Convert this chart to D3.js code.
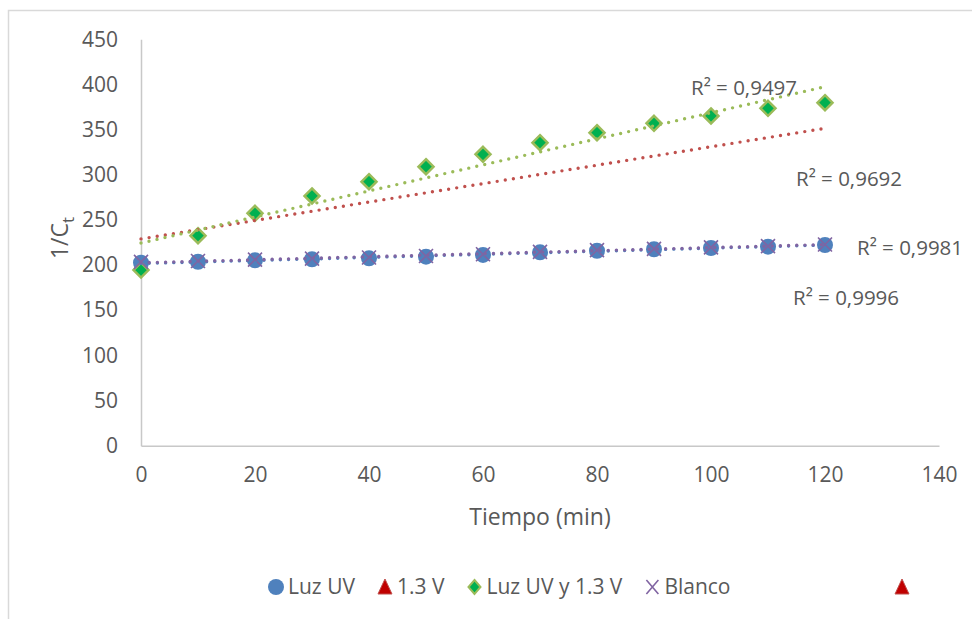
<!DOCTYPE html>
<html>
<head>
<meta charset="utf-8">
<script src="https://cdn.jsdelivr.net/npm/d3@7"></script>
<style>
  body { margin: 0; background: #fff; }
  text { font-family: "Open Sans", sans-serif; fill: #595959; }
</style>
</head>
<body>
<div id="chart"></div>
<script>
// data
let tiempo = [0, 10, 20, 30, 40, 50, 60, 70, 80, 90, 100, 110, 120]
let luzUV = [202.6, 203.7, 205.3, 206.4, 207.5, 209.3, 211.2, 214.1, 215.9, 217.5, 218.9, 220.4, 222.2]
let luzUV13 = [194.5, 232.5, 257.3, 276.5, 292.3, 308.9, 322.7, 335.5, 346.6, 357, 365.1, 373.6, 379.8]
let blanco = [203.5, 204.5, 206, 207.2, 208.4, 210, 212, 214.6, 216.5, 218, 219.6, 221, 222.8]
// 1.3 V markers are not visible, only its trendline (value at t=0 and t=120)
let trend13V = [229, 351.4]
let r2Labels = ["R² = 0,9497", "R² = 0,9692", "R² = 0,9981", "R² = 0,9996"]
let legendNames = ["Luz UV", "1.3 V", "Luz UV y 1.3 V", "Blanco"]
let xTicks = [0, 20, 40, 60, 80, 100, 120, 140]
let yTicks = [0, 50, 100, 150, 200, 250, 300, 350, 400, 450]

var W = 972, H = 619
var margin = { top: 39.3, left: 141, right: 33, bottom: 173.3 }

var svg = d3.select("#chart").append("svg")
    .attr("width", W)
    .attr("height", H)

// outer chart frame (only top and left visible)
svg.append("path")
    .attr("d", "M8.5," + H + " V10.5 H" + W)
    .attr("fill", "none")
    .attr("stroke", "#d9d9d9")
    .attr("stroke-width", 1.5)

var x = d3.scaleLinear().domain([0, 140]).range([margin.left, W - margin.right])
var y = d3.scaleLinear().domain([0, 450]).range([H - margin.bottom, margin.top])

// axes
var xAxis = svg.append("g")
    .attr("transform", "translate(0," + y(0) + ")")
    .call(d3.axisBottom(x).tickValues(xTicks).tickSize(0).tickPadding(21))
xAxis.select(".domain").attr("stroke", "#c8c8c8").attr("stroke-width", 1.5)
xAxis.selectAll("text").style("font-size", "21px").attr("fill", "#595959")
    .style("font-family", "'Open Sans', sans-serif")

var yAxis = svg.append("g")
    .attr("transform", "translate(" + x(0) + ",0)")
    .call(d3.axisLeft(y).tickValues(yTicks).tickSize(0).tickPadding(23))
yAxis.select(".domain").attr("stroke", "#c8c8c8").attr("stroke-width", 1.5)
yAxis.selectAll("text").style("font-size", "21px").attr("fill", "#595959")
    .style("font-family", "'Open Sans', sans-serif")

// axis titles
svg.append("text")
    .attr("x", 540).attr("y", 525)
    .attr("text-anchor", "middle")
    .style("font-size", "23px")
    .text("Tiempo (min)")

var yTitle = svg.append("text")
    .attr("transform", "translate(68,238) rotate(-90)")
    .attr("text-anchor", "middle")
    .style("font-size", "23px")
yTitle.append("tspan").text("1/C")
yTitle.append("tspan").attr("dy", 6).style("font-size", "17px").text("t")

function fit(xs, ys) {
    var mx = d3.mean(xs), my = d3.mean(ys)
    var sxy = d3.sum(xs, (v, i) => (v - mx) * (ys[i] - my))
    var sxx = d3.sum(xs, v => (v - mx) * (v - mx))
    var b = sxy / sxx
    return [my - b * mx, b]
}

var dotted = (color) => (sel) => sel
    .attr("fill", "none")
    .attr("stroke", color)
    .attr("stroke-width", 3.4)
    .attr("stroke-linecap", "round")
    .attr("stroke-dasharray", "0 8.2")

var line = d3.line().x(d => x(d[0])).y(d => y(d[1]))

// markers
svg.append("g").selectAll("circle")
    .data(tiempo)
    .enter().append("circle")
    .attr("cx", d => x(d))
    .attr("cy", (d, i) => y(luzUV[i]))
    .attr("r", 8)
    .attr("fill", "#4f81bd")

svg.append("g").selectAll("path")
    .data(tiempo)
    .enter().append("path")
    .attr("transform", (d, i) => "translate(" + x(d) + "," + y(luzUV13[i]) + ")")
    .attr("d", "M0,-7.5 L7.5,0 L0,7.5 L-7.5,0 Z")
    .attr("fill", "#00b050")
    .attr("stroke", "#9bbb59")
    .attr("stroke-width", 2.5)

svg.append("g").selectAll("path")
    .data(tiempo)
    .enter().append("path")
    .attr("transform", (d, i) => "translate(" + x(d) + "," + y(blanco[i]) + ")")
    .attr("d", "M-7,-7 L7,7 M7,-7 L-7,7")
    .attr("stroke", "#8064a2")
    .attr("stroke-width", 1.6)

// trendlines
var fUV = fit(tiempo, luzUV)
var fMix = fit(tiempo, luzUV13)
var fBl = fit(tiempo, blanco)
var tEnd = d3.max(tiempo)
var ends = (f) => [[0, f[0]], [tEnd, f[0] + f[1] * tEnd]]

svg.append("path").datum([[0, trend13V[0]], [tEnd, trend13V[1]]]).attr("d", line).call(dotted("#c0504d"))
svg.append("path").datum(ends(fMix)).attr("d", line).call(dotted("#9bbb59"))
svg.append("path").datum(ends(fUV)).attr("d", line).call(dotted("#4f81bd"))
svg.append("path").datum(ends(fBl)).attr("d", line).call(dotted("#8064a2"))

// R² labels
var r2Pos = [[691, 95], [796, 186], [857, 255], [793, 305]]
svg.selectAll(".r2")
    .data(r2Labels)
    .enter().append("text")
    .attr("class", "r2")
    .attr("x", (d, i) => r2Pos[i][0])
    .attr("y", (d, i) => r2Pos[i][1])
    .style("font-size", "20.5px")
    .text(d => d)

// legend
var symbols = [
    g => g.append("circle").attr("r", 8).attr("fill", "#4f81bd"),
    g => g.append("path").attr("d", "M0,-8 L7,7 L-7,7 Z").attr("fill", "#c00000").attr("stroke", "#c0504d"),
    g => g.append("path").attr("d", "M0,-7 L6,0 L0,7 L-6,0 Z").attr("fill", "#00b050").attr("stroke", "#9bbb59").attr("stroke-width", 2),
    g => g.append("path").attr("d", "M-6,-7 L6,7 M6,-7 L-6,7").attr("stroke", "#8064a2").attr("stroke-width", 1.6)
]
var legend = svg.append("g").attr("transform", "translate(0,587)")
var lx = 276
legendNames.forEach((name, i) => {
    var item = legend.append("g").attr("transform", "translate(" + lx + ",0)")
    symbols[i](item)
    var t = item.append("text")
        .attr("x", 12)
        .attr("dy", "0.35em")
        .style("font-size", "21px")
        .text(name)
    lx += 12 + t.node().getComputedTextLength() + 30
})
// stray triangle at the right of the legend
symbols[1](legend.append("g").attr("transform", "translate(902,0)"))
</script>
</body>
</html>
